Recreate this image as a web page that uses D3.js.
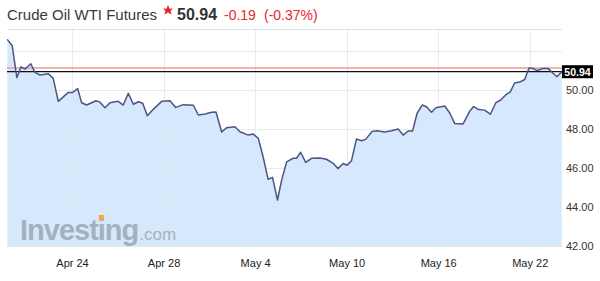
<!DOCTYPE html>
<html lang="en">
<head>
<meta charset="UTF-8">
<title>Crude Oil WTI Futures</title>
<style>
    body { margin: 0; background: #fff; font-family: Arial, 'Liberation Sans', sans-serif; }
    svg { display: block; }
</style>
<script src="https://d3js.org/d3.v7.min.js"></script>
</head>
<body>
<div id="chart"></div>
<script>
    // trading-day offset from Apr 24 (weekends skipped) and price
    const dayOffsets = [-2.83, -2.61, -2.41, -2.23, -2.05, -1.80, -1.62, -1.40, -1.03, -0.82,
        -0.60, -0.16, 0.03, 0.25, 0.42, 0.64, 1.05, 1.22, 1.44, 1.66,
        2.02, 2.24, 2.46, 2.68, 2.90, 3.09, 3.29, 3.55, 3.92, 4.28,
        4.53, 4.86, 5.30, 5.52, 5.81, 6.10, 6.29, 6.54, 6.76, 7.12,
        7.34, 7.70, 7.92, 8.14, 8.35, 8.57, 8.76, 8.98, 9.16, 9.38,
        9.66, 9.81, 9.99, 10.21, 10.47, 10.83, 11.12, 11.41, 11.62, 11.85,
        12.02, 12.21, 12.43, 12.65, 12.83, 13.11, 13.32, 13.67, 13.96, 14.25,
        14.47, 14.69, 14.88, 15.08, 15.30, 15.49, 15.71, 15.90, 16.29, 16.51,
        16.72, 17.09, 17.38, 17.55, 17.77, 18.03, 18.28, 18.52, 18.73, 18.97,
        19.15, 19.34, 19.56, 19.78, 19.97, 20.14, 20.33, 20.58, 20.80, 21.02,
        21.19, 21.40];
    const prices = [52.60, 52.27, 50.63, 51.19, 51.08, 51.35, 50.91, 50.77, 50.84, 50.60,
        49.42, 49.88, 49.88, 50.07, 49.35, 49.23, 49.45, 49.38, 49.09, 49.35,
        49.42, 49.23, 49.83, 49.27, 49.40, 49.32, 48.68, 49.01, 49.42, 49.45,
        49.11, 49.25, 49.22, 48.72, 48.77, 48.86, 48.87, 47.85, 48.07, 48.12,
        47.86, 47.69, 47.74, 47.52, 46.58, 45.42, 45.52, 44.36, 45.38, 46.32,
        46.50, 46.50, 46.81, 46.29, 46.50, 46.51, 46.45, 46.24, 45.97, 46.23,
        46.14, 46.37, 47.49, 47.40, 47.47, 47.87, 47.91, 47.85, 47.91, 48.00,
        47.69, 47.90, 47.90, 48.81, 49.23, 49.14, 48.86, 49.09, 49.18, 48.81,
        48.29, 48.26, 48.92, 49.15, 49.00, 48.97, 48.76, 49.35, 49.49, 49.77,
        49.91, 50.36, 50.41, 50.54, 51.13, 51.11, 51.00, 51.11, 51.11, 50.86,
        50.68, 50.94];
    const xTickDays = [0, 4, 8, 12, 16, 20];
    const xTickLabels = ["Apr 24", "Apr 28", "May 4", "May 10", "May 16", "May 22"];
    const yTicks = [42, 44, 46, 48, 50];
    const yGrid = [44, 46, 48, 50, 52];
    const lastPrice = 50.94;
    const prevClose = 51.13;

    const data = dayOffsets.map((d, i) => ({ t: d, v: prices[i] }));

    const width = 600, height = 281;
    const plotLeft = 7, plotRight = 562, plotTop = 30, plotBottom = 246;

    const svg = d3.select("#chart").append("svg")
        .attr("width", width)
        .attr("height", height);

    const x = d3.scaleLinear().domain([-2.84, 21.41]).range([plotLeft, plotRight]);
    const y = d3.scaleLinear().domain([42, 53.08]).range([plotBottom, plotTop]);

    // title line
    const title = svg.append("g").attr("font-size", 15);
    title.append("text").attr("x", 7).attr("y", 20).attr("fill", "#3a3a3a").text("Crude Oil WTI Futures");
    title.append("path")
        .attr("d", "M168,5 L169.6,8.8 L173,8.6 L170.6,11 L171.6,14.6 L168,12.6 L164.4,14.6 L165.4,11 L163,8.6 L166.4,8.8 Z")
        .attr("fill", "#e8262a");
    title.append("text").attr("x", 177).attr("y", 20).attr("fill", "#333")
        .attr("font-weight", "bold").attr("font-size", 16).text(lastPrice.toFixed(2));
    title.append("text").attr("x", 224).attr("y", 20).attr("fill", "#e8262a").attr("font-size", 14).text("-0.19");
    title.append("text").attr("x", 264).attr("y", 20).attr("fill", "#e8262a").attr("font-size", 14).text("(-0.37%)");

    // area fill
    svg.append("path")
        .datum(data)
        .attr("fill", "#d6e8fb")
        .attr("d", d3.area().x(d => x(d.t)).y0(plotBottom).y1(d => y(d.v)));

    // grid
    svg.append("g").selectAll("line").data(yGrid).join("line")
        .attr("x1", plotLeft).attr("x2", plotRight)
        .attr("y1", d => Math.round(y(d)) + 0.5).attr("y2", d => Math.round(y(d)) + 0.5)
        .attr("stroke", "#dfe5f0").attr("stroke-opacity", 0.8);
    svg.append("g").selectAll("line").data(xTickDays).join("line")
        .attr("x1", d => Math.round(x(d)) + 0.5).attr("x2", d => Math.round(x(d)) + 0.5)
        .attr("y1", plotTop).attr("y2", plotBottom)
        .attr("stroke", "#dfe5f0").attr("stroke-opacity", 0.8);
    svg.append("line").attr("x1", plotLeft).attr("x2", plotRight).attr("y1", plotTop - 0.5).attr("y2", plotTop - 0.5)
        .attr("stroke", "#dde2ea");
    svg.append("line").attr("x1", plotLeft).attr("x2", plotRight).attr("y1", plotBottom + 0.5).attr("y2", plotBottom + 0.5)
        .attr("stroke", "#e6e9ee");

    // watermark
    const wm = svg.append("text").attr("x", 20).attr("y", 240).attr("fill", "#9ba6b5").attr("fill-opacity", 0.85);
    const wmMain = wm.append("tspan").attr("font-size", 29).attr("font-weight", "bold").attr("letter-spacing", -1).text("Investing");
    wm.append("tspan").attr("font-size", 17).attr("dx", 1).text(".com");
    // orange dot over the second "i"
    const iPos = wmMain.node().getStartPositionOfChar(6);
    const iEnd = wmMain.node().getEndPositionOfChar(6);
    svg.append("rect")
        .attr("x", (iPos.x + iEnd.x) / 2 - 2.5).attr("y", 215)
        .attr("width", 5).attr("height", 5).attr("fill", "#f0a840");

    // reference lines
    svg.append("line").attr("x1", plotLeft).attr("x2", plotRight)
        .attr("y1", y(prevClose)).attr("y2", y(prevClose))
        .attr("stroke", "#f19a9a").attr("stroke-width", 1.5);
    svg.append("line").attr("x1", plotLeft).attr("x2", plotRight)
        .attr("y1", y(lastPrice)).attr("y2", y(lastPrice))
        .attr("stroke", "#111").attr("stroke-width", 1.2);

    // price line
    svg.append("path")
        .datum(data)
        .attr("fill", "none")
        .attr("stroke", "#4b5682")
        .attr("stroke-width", 1.5)
        .attr("stroke-linejoin", "round")
        .attr("d", d3.line().x(d => x(d.t)).y(d => y(d.v)));

    // axes
    const xAxis = svg.append("g")
        .attr("transform", `translate(0,${plotBottom})`)
        .call(d3.axisBottom(x).tickValues(xTickDays).tickFormat((d, i) => xTickLabels[i]).tickSize(0).tickPadding(13));
    xAxis.select(".domain").remove();
    xAxis.selectAll("text").attr("font-size", 11).attr("fill", "#222").attr("font-family", "Arial, 'Liberation Sans', sans-serif");

    const yAxis = svg.append("g")
        .attr("transform", `translate(${plotRight},0)`)
        .call(d3.axisRight(y).tickValues(yTicks).tickFormat(d3.format(".2f")).tickSize(0).tickPadding(4));
    yAxis.select(".domain").remove();
    yAxis.selectAll("text").attr("font-size", 11).attr("fill", "#333").attr("font-family", "Arial, 'Liberation Sans', sans-serif");

    // last price tag
    svg.append("rect").attr("x", plotRight).attr("y", y(lastPrice) - 6.5).attr("width", 31).attr("height", 13).attr("fill", "#000");
    svg.append("text").attr("x", plotRight + 15.5).attr("y", y(lastPrice) + 4).attr("fill", "#fff")
        .attr("text-anchor", "middle").attr("font-size", 10.5).attr("font-weight", "bold").text(lastPrice.toFixed(2));
</script>
</body>
</html>
